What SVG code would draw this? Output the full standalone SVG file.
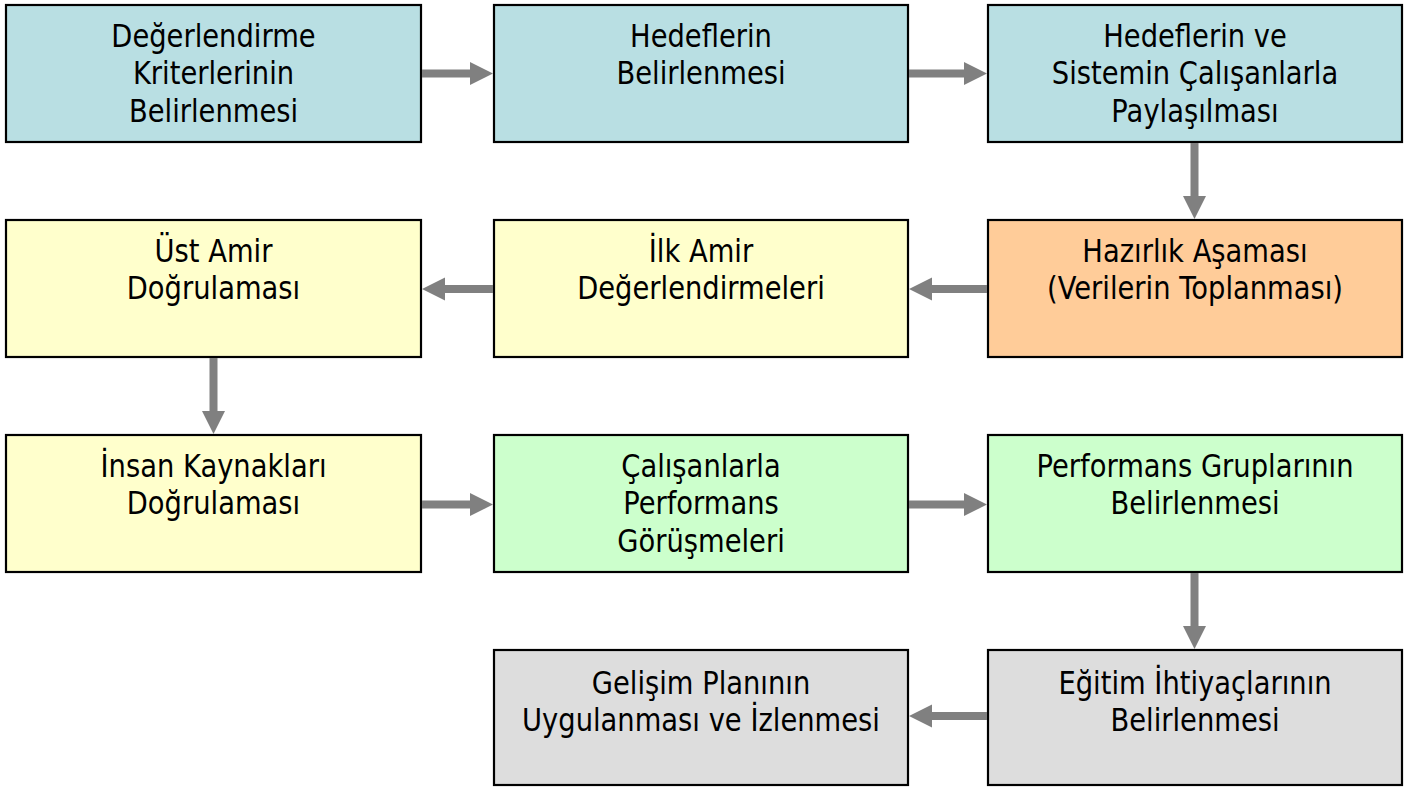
<svg xmlns="http://www.w3.org/2000/svg" width="1412" height="787" viewBox="0 0 1412 787">
<style>
.box{stroke:#000;stroke-width:2.2}
.blue{fill:#B9DFE3}
.orange{fill:#FFCC99}
.yellow{fill:#FFFFCC}
.green{fill:#CCFFCC}
.gray{fill:#DDDDDD}
.t{font-family:"DejaVu Sans",Verdana,sans-serif;font-size:32px;fill:#000;text-anchor:middle}
.arr{fill:#808080}
</style>
<rect width="1412" height="787" fill="#fff"/>
<g id="n1"><rect class="box blue" x="6" y="5" width="415" height="137"/>
<text class="t" transform="translate(213.5,47) scale(0.855,1)"><tspan x="0">Değerlendirme</tspan><tspan x="0" dy="37.5">Kriterlerinin</tspan><tspan x="0" dy="37.5">Belirlenmesi</tspan></text></g>
<g id="n2"><rect class="box blue" x="494" y="5" width="414" height="137"/>
<text class="t" transform="translate(701,47) scale(0.855,1)"><tspan x="0">Hedeflerin</tspan><tspan x="0" dy="37.5">Belirlenmesi</tspan></text></g>
<g id="n3"><rect class="box blue" x="988" y="5" width="414" height="137"/>
<text class="t" transform="translate(1195,47) scale(0.855,1)"><tspan x="0">Hedeflerin ve</tspan><tspan x="0" dy="37.5">Sistemin Çalışanlarla</tspan><tspan x="0" dy="37.5">Paylaşılması</tspan></text></g>
<g id="n4"><rect class="box orange" x="988" y="220" width="414" height="137"/>
<text class="t" transform="translate(1195,262) scale(0.855,1)"><tspan x="0">Hazırlık Aşaması</tspan><tspan x="0" dy="37.5">(Verilerin Toplanması)</tspan></text></g>
<g id="n5"><rect class="box yellow" x="494" y="220" width="414" height="137"/>
<text class="t" transform="translate(701,262) scale(0.855,1)"><tspan x="0">İlk Amir</tspan><tspan x="0" dy="37.5">Değerlendirmeleri</tspan></text></g>
<g id="n6"><rect class="box yellow" x="6" y="220" width="415" height="137"/>
<text class="t" transform="translate(213.5,262) scale(0.855,1)"><tspan x="0">Üst Amir</tspan><tspan x="0" dy="37.5">Doğrulaması</tspan></text></g>
<g id="n7"><rect class="box yellow" x="6" y="435" width="415" height="137"/>
<text class="t" transform="translate(213.5,477) scale(0.855,1)"><tspan x="0">İnsan Kaynakları</tspan><tspan x="0" dy="37.5">Doğrulaması</tspan></text></g>
<g id="n8"><rect class="box green" x="494" y="435" width="414" height="137"/>
<text class="t" transform="translate(701,477) scale(0.855,1)"><tspan x="0">Çalışanlarla</tspan><tspan x="0" dy="37.5">Performans</tspan><tspan x="0" dy="37.5">Görüşmeleri</tspan></text></g>
<g id="n9"><rect class="box green" x="988" y="435" width="414" height="137"/>
<text class="t" transform="translate(1195,477) scale(0.855,1)"><tspan x="0">Performans Gruplarının</tspan><tspan x="0" dy="37.5">Belirlenmesi</tspan></text></g>
<g id="n10"><rect class="box gray" x="988" y="650" width="414" height="135"/>
<text class="t" transform="translate(1195,694) scale(0.855,1)"><tspan x="0">Eğitim İhtiyaçlarının</tspan><tspan x="0" dy="37.5">Belirlenmesi</tspan></text></g>
<g id="n11"><rect class="box gray" x="494" y="650" width="414" height="135"/>
<text class="t" transform="translate(701,694) scale(0.855,1)"><tspan x="0">Gelişim Planının</tspan><tspan x="0" dy="37.5">Uygulanması ve İzlenmesi</tspan></text></g>
<g id="connectors" class="arr">
<path d="M422,69.5 H470 V62 L493,73.5 L470,85 V77.5 H422 Z"/>
<path d="M909,69.5 H964 V62 L987,73.5 L964,85 V77.5 H909 Z"/>
<path d="M1190.5,143 V196 H1183 L1194.5,219 L1206,196 H1198.5 V143 Z"/>
<path d="M987,285 H932 V277.5 L909,289 L932,300.5 V293 H987 Z"/>
<path d="M493,285 H445 V277.5 L422,289 L445,300.5 V293 H493 Z"/>
<path d="M209.5,358 V411 H202 L213.5,434 L225,411 H217.5 V358 Z"/>
<path d="M422,500.5 H470 V493 L493,504.5 L470,516 V508.5 H422 Z"/>
<path d="M909,500.5 H964 V493 L987,504.5 L964,516 V508.5 H909 Z"/>
<path d="M1190.5,573 V626 H1183 L1194.5,649 L1206,626 H1198.5 V573 Z"/>
<path d="M987,712 H932 V704.5 L909,716 L932,727.5 V720 H987 Z"/>
</g>
</svg>
